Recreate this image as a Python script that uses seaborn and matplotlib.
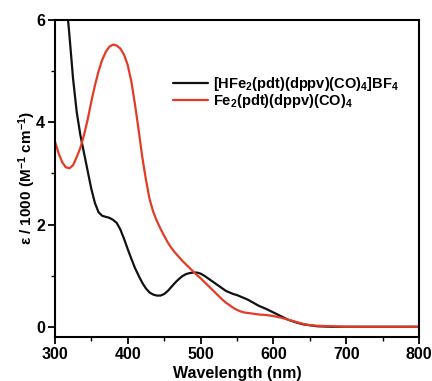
import matplotlib
matplotlib.use('Agg')
import matplotlib.pyplot as plt
import seaborn as sns
import pandas as pd
from matplotlib.ticker import MultipleLocator

# absorption spectra
wl_black = [300, 305, 310, 315, 320, 325, 330, 335, 340, 345, 350, 355, 360, 365,
            370, 375, 380, 385, 390, 395, 400, 405, 410, 415, 420, 425, 430, 435,
            440, 445, 450, 455, 460, 465, 470, 475, 480, 485, 490, 495, 500, 505,
            510, 515, 520, 525, 530, 535, 540, 545, 550, 555, 560, 565, 570, 575,
            580, 590, 600, 610, 620, 630, 640, 650, 660, 680, 700, 750, 800]
eps_black = [9.8, 8.6, 7.5, 6.5, 5.7, 4.85, 4.2, 3.75, 3.4, 3.05, 2.7, 2.42, 2.24, 2.17,
             2.15, 2.13, 2.09, 2.03, 1.9, 1.72, 1.52, 1.33, 1.15, 1.0, 0.86, 0.75, 0.67, 0.63,
             0.61, 0.61, 0.64, 0.7, 0.78, 0.86, 0.93, 0.99, 1.03, 1.05, 1.06, 1.06, 1.04, 1.0,
             0.95, 0.9, 0.85, 0.8, 0.75, 0.7, 0.67, 0.64, 0.62, 0.59, 0.56, 0.53, 0.49, 0.45,
             0.41, 0.35, 0.28, 0.21, 0.14, 0.09, 0.05, 0.03, 0.01, 0.0, 0.0, 0.0, 0.0]

wl_red = [300, 305, 310, 315, 320, 325, 330, 335, 340, 345, 350, 355, 360, 365, 370,
          375, 380, 385, 390, 395, 400, 405, 410, 415, 420, 425, 430, 435, 440, 445,
          450, 455, 460, 465, 470, 475, 480, 485, 490, 495, 500, 505, 510, 515, 520,
          525, 530, 535, 540, 545, 550, 555, 560, 570, 580, 590, 600, 610, 620, 630,
          640, 650, 660, 680, 700, 800]
eps_red = [3.63, 3.4, 3.22, 3.12, 3.1, 3.16, 3.32, 3.5, 3.75, 4.05, 4.4, 4.72, 5.0, 5.22, 5.38,
           5.48, 5.52, 5.5, 5.44, 5.32, 5.12, 4.8, 4.35, 3.85, 3.32, 2.88, 2.5, 2.25, 2.07, 1.92,
           1.78, 1.65, 1.54, 1.45, 1.37, 1.29, 1.22, 1.15, 1.08, 1.01, 0.95, 0.88, 0.81, 0.74, 0.67,
           0.6, 0.53, 0.47, 0.42, 0.37, 0.33, 0.3, 0.28, 0.26, 0.24, 0.23, 0.21, 0.18, 0.14, 0.1,
           0.06, 0.03, 0.02, 0.01, 0.0, 0.0]

label_black = r'[HFe$_2$(pdt)(dppv)(CO)$_4$]BF$_4$'
label_red = r'Fe$_2$(pdt)(dppv)(CO)$_4$'

sns.set_style('ticks')
plt.rcParams['font.family'] = ['Liberation Sans', 'DejaVu Sans']
plt.rcParams['font.weight'] = 'bold'
plt.rcParams['text.color'] = 'black'
plt.rcParams['axes.labelcolor'] = 'black'
plt.rcParams['xtick.color'] = 'black'
plt.rcParams['ytick.color'] = 'black'
plt.rcParams['axes.edgecolor'] = 'black'
plt.rcParams['mathtext.fontset'] = 'custom'
plt.rcParams['mathtext.rm'] = 'Liberation Sans:bold'
plt.rcParams['mathtext.bf'] = 'Liberation Sans:bold'
plt.rcParams['mathtext.it'] = 'Liberation Sans:bold'
plt.rcParams['mathtext.default'] = 'bf'

fig, ax = plt.subplots(figsize=(4.32, 3.81), dpi=100)
fig.subplots_adjust(left=0.127, right=0.970, top=0.9475, bottom=0.1155)

df_black = pd.DataFrame({'wl': wl_black, 'eps': eps_black})
df_red = pd.DataFrame({'wl': wl_red, 'eps': eps_red})
sns.lineplot(data=df_black, x='wl', y='eps', ax=ax, color='#111111', lw=1.6,
             label=label_black, sort=True)
sns.lineplot(data=df_red, x='wl', y='eps', ax=ax, color='#e33b26', lw=1.6,
             label=label_red, sort=True)

ax.set_xlim(300, 800)
ax.set_ylim(-0.2, 6)
ax.xaxis.set_major_locator(MultipleLocator(100))
ax.xaxis.set_minor_locator(MultipleLocator(50))
ax.yaxis.set_major_locator(MultipleLocator(2))
ax.yaxis.set_minor_locator(MultipleLocator(1))
ax.tick_params(which='major', direction='out', length=5, width=1.3, labelsize=11.5, pad=2)
ax.tick_params(which='minor', direction='out', length=3, width=1.0)
for side in ['top', 'right', 'left', 'bottom']:
    ax.spines[side].set_visible(True)
    ax.spines[side].set_linewidth(1.5)
for lab in ax.get_xticklabels() + ax.get_yticklabels():
    lab.set_fontweight('bold')

ax.set_xlabel('Wavelength (nm)', fontsize=11.5, fontweight='bold', labelpad=3)
ax.set_ylabel(r'ε / 1000 (M$^{-1}$ cm$^{-1}$)', fontsize=11, fontweight='bold', labelpad=-1)

leg = ax.legend(loc='upper left', bbox_to_anchor=(0.324, 0.825), frameon=False,
                borderpad=0, borderaxespad=0, fontsize=10.5, handlelength=2.4,
                handletextpad=0.35, labelspacing=-0.1)
for t in leg.get_texts():
    t.set_fontweight('bold')

fig.savefig('out.png', dpi=100)
